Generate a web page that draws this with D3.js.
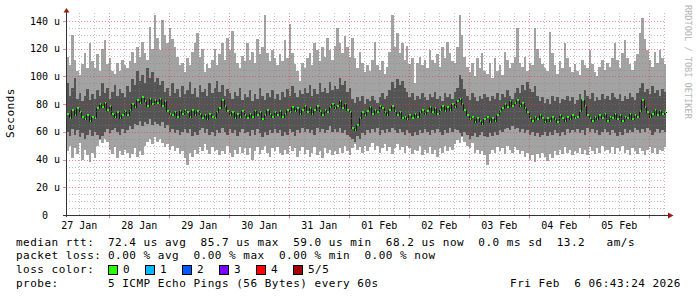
<!DOCTYPE html>
<html lang="en">
<head>
<meta charset="UTF-8">
<title>SmokePing latency, last 10 days</title>
<script src="https://d3js.org/d3.v7.min.js"></script>
<style>
  body { margin: 0; background: #fff; }
  svg { display: block; }
  text { font-family: "DejaVu Sans Mono", monospace; white-space: pre; fill: #000; }
  .tick-label { font-size: 10px; }
  .legend { font-size: 11px; letter-spacing: 0.5px; }
  .watermark { font-size: 8.6px; fill: #b4b4b4; }
</style>
</head>
<body>
<svg id="chart" width="697" height="297"></svg>
<script>
// 5 pings per sample, sorted; one sample per hour (values in microseconds)
const pingMax = [
  114,108,130,112,104,101,109,117,106,124,111,106,
  116,104,120,126,109,113,104,102,110,104,112,108,
  106,111,118,110,121,114,125,117,112,136,120,144,
  128,119,141,130,124,135,127,121,114,108,110,103,
  113,108,118,124,131,114,120,103,109,106,112,120,
  108,116,124,112,128,119,133,117,110,106,115,111,
  124,112,118,110,127,116,121,144,117,111,119,113,
  108,116,111,126,113,138,117,109,104,97,110,106,
  113,117,108,124,119,111,121,114,128,119,112,122,
  135,124,117,129,121,114,128,113,106,118,110,103,
  108,104,112,125,108,105,111,102,107,118,144,121,
  131,117,124,112,122,109,113,95,110,114,108,112,
  106,119,112,110,116,107,121,113,125,117,111,110,
  121,144,130,114,107,103,110,100,113,106,117,104,
  102,110,99,113,104,108,101,118,112,106,110,114,
  135,110,107,114,104,110,108,135,120,113,109,106,
  104,132,117,108,102,111,106,124,113,107,103,109,
  104,101,112,108,106,119,109,103,100,107,112,105,
  110,107,113,124,112,106,117,126,113,109,105,111,
  116,131,142,127,119,112,107,118,110,119,113,109
];
const ping4 = [
  95,86,92,99,84,88,82,86,91,83,87,84,
  90,86,95,88,92,84,89,94,86,91,88,85,
  93,89,98,94,104,97,101,95,106,99,103,96,
  99,94,97,89,92,86,95,88,91,85,93,87,
  90,96,87,92,85,94,89,91,86,95,88,92,
  97,89,94,86,91,88,84,89,86,92,83,87,
  85,90,82,87,84,92,86,83,88,85,90,84,
  87,83,89,85,91,86,93,88,85,90,87,92,
  88,94,86,91,87,95,89,92,88,96,90,93,
  91,99,94,97,89,92,84,81,85,82,86,80,
  84,82,86,83,81,85,88,84,86,90,96,92,
  98,94,97,92,89,85,88,83,86,84,88,85,
  83,87,85,89,84,86,82,88,85,87,84,89,
  92,101,98,91,86,83,88,85,82,86,84,87,
  85,82,86,84,88,83,87,85,90,86,84,88,
  92,88,94,90,96,91,89,93,86,82,85,81,
  84,80,86,82,85,81,84,83,86,82,85,80,
  83,87,84,90,86,84,88,82,85,83,87,84,
  86,83,88,85,84,87,82,86,84,88,85,83,
  88,92,95,89,91,87,93,88,90,86,91,89
];
const median = [
  73,70,76,72,77,74,71,69,72,68,71,70,
  77,80,78,81,76,79,73,71,74,70,72,75,
  72,76,80,78,83,81,85,82,79,84,80,83,
  81,84,79,82,75,73,72,74,71,75,73,76,
  74,71,76,72,75,73,70,72,69,73,71,70,
  74,77,83,79,75,72,74,70,73,71,75,72,
  70,73,71,75,72,74,69,72,76,73,71,74,
  72,75,71,73,76,74,78,75,77,73,76,79,
  74,77,73,76,79,75,72,76,74,78,80,77,
  79,82,77,80,76,74,63,61,65,70,74,72,
  75,78,73,76,74,79,77,74,72,76,79,75,
  72,74,70,71,69,72,70,73,71,74,76,73,
  75,78,74,77,73,76,79,75,78,76,80,78,
  82,84,80,76,72,69,71,67,70,68,66,69,
  71,67,70,68,72,75,77,80,78,82,79,81,
  83,79,81,77,74,70,68,71,69,72,70,67,
  70,68,71,69,67,72,70,68,71,69,72,70,
  71,75,83,79,72,70,68,71,69,72,70,73,
  68,71,70,73,69,72,68,71,70,73,69,72,
  71,75,83,78,74,71,73,76,72,75,73,74
];
const ping2 = [
  60,57,62,58,61,56,59,55,58,61,57,60,
  58,55,57,60,62,59,61,63,60,58,62,59,
  61,64,62,66,65,68,64,67,66,69,65,67,
  66,64,67,63,65,60,62,59,61,58,60,62,
  59,62,57,60,58,61,63,59,62,58,60,57,
  61,59,63,60,58,62,59,61,57,60,62,59,
  60,57,61,58,62,59,56,60,58,61,59,62,
  59,61,57,60,58,62,60,57,61,59,63,60,
  62,59,61,58,63,60,62,59,61,64,60,62,
  60,63,59,61,58,56,55,53,57,55,59,58,
  61,59,62,60,63,58,61,59,62,60,63,61,
  59,62,60,58,61,59,57,60,58,61,59,62,
  60,58,61,59,62,60,58,61,59,63,60,62,
  61,59,57,60,58,55,57,59,56,58,60,57,
  56,59,57,60,58,61,60,62,63,61,64,62,
  63,60,62,59,61,58,60,57,59,56,58,60,
  57,60,58,61,59,57,60,58,62,59,61,60,
  62,59,61,58,63,60,62,59,61,58,60,62,
  60,58,61,59,57,60,58,62,59,61,60,63,
  61,59,62,60,63,61,58,60,62,59,61,60
];
const pingMin = [
  46,50,41,48,44,52,40,47,43,38,45,41,
  50,54,52,55,53,47,44,49,41,46,43,47,
  45,41,44,48,42,46,43,50,53,55,51,56,
  53,55,52,49,51,47,50,46,48,44,46,41,
  36,45,42,47,44,49,46,51,47,44,49,46,
  47,43,46,44,50,45,42,47,44,49,45,48,
  43,48,40,46,49,44,47,50,45,42,48,46,
  49,45,43,47,44,50,46,48,42,46,49,44,
  47,42,45,49,43,46,41,48,45,47,43,46,
  44,48,45,50,46,43,48,51,47,49,45,50,
  46,49,52,47,50,45,48,51,46,49,44,48,
  51,47,49,45,50,48,44,47,46,50,43,47,
  45,49,44,47,42,48,45,50,46,49,47,51,
  54,52,56,53,50,48,52,45,47,44,46,43,
  36,44,47,45,49,46,48,44,50,47,45,49,
  47,44,46,42,45,40,43,38,44,41,45,42,
  39,44,41,46,43,47,44,49,45,47,43,46,
  45,48,44,47,43,49,46,44,48,45,50,46,
  47,45,49,44,48,46,50,45,47,43,48,46,
  44,48,46,43,47,49,45,48,44,47,46,49
];

const medianStats = ["72.4 us avg", "85.7 us max", "59.0 us min", "68.2 us now", "0.0 ms sd", "13.2   am/s"];
const lossStats = ["0.00 % avg", "0.00 % max", "0.00 % min", "0.00 % now"];
const lossLabels = ["0", "1", "2", "3", "4", "5/5"];
const lossColors = ["#26ff00", "#00b8ff", "#0059ff", "#7e00ff", "#ff0000", "#a00000"];
const probeText = "5 ICMP Echo Pings (56 Bytes) every 60s";
const stampText = "Fri Feb  6 06:43:24 2026";

const plotLeft = 66, plotRight = 666, plotTop = 13.4, plotBottom = 215;
const start = new Date(Date.UTC(2026, 0, 27, 6, 43, 24));
const end = new Date(Date.UTC(2026, 1, 6, 6, 43, 24));
const stepMs = (end - start) / median.length;

const svg = d3.select("#chart");

const x = d3.scaleUtc().domain([start, end]).range([plotLeft, plotRight]);
const y = d3.scaleLinear().domain([0, 145.5]).range([plotBottom, plotTop]);

const t = i => new Date(+start + i * stepMs);
const px = i => Math.round(x(t(i)));
const py = v => Math.round(y(v));
const idx = d3.range(median.length);

// smoke: outer pair (min..max) then inner pair (2nd..4th)
const data = svg.append("g").attr("shape-rendering", "crispEdges");
data.selectAll("rect.outer")
  .data(idx)
  .enter().append("rect")
    .attr("x", i => px(i))
    .attr("width", i => px(i + 1) - px(i))
    .attr("y", i => py(pingMax[i]))
    .attr("height", i => py(pingMin[i]) - py(pingMax[i]))
    .attr("fill", "#a3a3a3");
data.selectAll("rect.inner")
  .data(idx)
  .enter().append("rect")
    .attr("x", i => px(i))
    .attr("width", i => px(i + 1) - px(i))
    .attr("y", i => py(ping4[i]))
    .attr("height", i => py(ping2[i]) - py(ping4[i]))
    .attr("fill", "#545454");

// median: dark connectors plus green bars (loss 0)
const medLine = d3.line()
  .x(i => px(i) + 0.5)
  .y(i => py(median[Math.min(i, median.length - 1)]))
  .curve(d3.curveStepAfter);
data.append("path")
  .attr("d", medLine(d3.range(median.length + 1)))
  .attr("fill", "none")
  .attr("stroke", "#1a1a1a")
  .attr("stroke-width", 1);
data.selectAll("rect.med")
  .data(idx)
  .enter().append("rect")
    .attr("x", i => px(i) + 1)
    .attr("width", i => Math.max(1, px(i + 1) - px(i) - 1))
    .attr("y", i => py(median[i]) - 1)
    .attr("height", 2)
    .attr("fill", lossColors[0]);

// grid (drawn over the smoke, like rrdtool)
const grid = svg.append("g").attr("fill", "none").attr("shape-rendering", "crispEdges");
const minorY = d3.range(0, 145, 5).filter(v => v % 20 !== 0);
const majorY = d3.range(0, 145, 20);
const minorX = d3.utcHour.every(6).range(start, end).filter(d => d.getUTCHours() !== 0);
const majorX = d3.utcDay.range(start, end);

const minorColor = "rgba(130,130,130,0.5)";
const majorColor = "rgba(225,60,60,0.6)";

grid.selectAll("line.my").data(minorY).enter().append("line")
  .attr("x1", plotLeft).attr("x2", plotRight)
  .attr("y1", d => py(d) + 0.5).attr("y2", d => py(d) + 0.5)
  .attr("stroke", minorColor).attr("stroke-dasharray", "1,2");
grid.selectAll("line.mx").data(minorX).enter().append("line")
  .attr("x1", d => Math.round(x(d)) + 0.5).attr("x2", d => Math.round(x(d)) + 0.5)
  .attr("y1", plotBottom).attr("y2", plotTop)
  .attr("stroke", minorColor).attr("stroke-dasharray", "1,2");
grid.selectAll("line.My").data(majorY.filter(v => v > 0)).enter().append("line")
  .attr("x1", plotLeft).attr("x2", plotRight)
  .attr("y1", d => py(d) + 0.5).attr("y2", d => py(d) + 0.5)
  .attr("stroke", majorColor).attr("stroke-dasharray", "1,2");
grid.selectAll("line.Mx").data(majorX).enter().append("line")
  .attr("x1", d => Math.round(x(d)) + 0.5).attr("x2", d => Math.round(x(d)) + 0.5)
  .attr("y1", plotBottom + 3).attr("y2", plotTop)
  .attr("stroke", majorColor).attr("stroke-dasharray", "1,2");

// small ticks on the axes
grid.selectAll("line.ty").data(majorY).enter().append("line")
  .attr("x1", plotLeft - 3).attr("x2", plotLeft)
  .attr("y1", d => py(d) + 0.5).attr("y2", d => py(d) + 0.5)
  .attr("stroke", majorColor);
grid.selectAll("line.tx").data(majorX).enter().append("line")
  .attr("x1", d => Math.round(x(d)) + 0.5).attr("x2", d => Math.round(x(d)) + 0.5)
  .attr("y1", plotBottom).attr("y2", plotBottom + 3)
  .attr("stroke", majorColor);

// axes
const axisColor = "#333";
svg.append("line")
  .attr("x1", plotLeft + 0.5).attr("x2", plotLeft + 0.5)
  .attr("y1", plotBottom + 2).attr("y2", 10)
  .attr("stroke", axisColor);
svg.append("line")
  .attr("x1", plotLeft - 3).attr("x2", 670)
  .attr("y1", plotBottom + 0.5).attr("y2", plotBottom + 0.5)
  .attr("stroke", axisColor);
svg.append("path")
  .attr("d", `M${plotLeft - 2.5},12.5 L${plotLeft + 3.5},12.5 L${plotLeft + 0.5},8 Z`)
  .attr("fill", "#9a1a1a");
svg.append("path")
  .attr("d", `M668,212.5 L668,218.5 L673.5,215.5 Z`)
  .attr("fill", "#9a1a1a");

// y tick labels
svg.selectAll("text.yl").data(majorY).enter().append("text")
  .attr("class", "tick-label")
  .attr("x", d => d === 0 ? 48 : 60)
  .attr("y", d => y(d) + 3.5)
  .attr("text-anchor", "end")
  .text(d => d === 0 ? "0" : `${d} u`);

// x labels centred at noon of each day
const fmt = d3.utcFormat("%d %b");
const noons = majorX.map(d => d3.utcHour.offset(d, -12))
  .concat([d3.utcHour.offset(majorX[majorX.length - 1], 12)])
  .filter(d => d >= start && d <= end);
svg.selectAll("text.xl").data(noons).enter().append("text")
  .attr("class", "tick-label")
  .attr("x", d => x(d))
  .attr("y", 229)
  .attr("text-anchor", "middle")
  .text(d => fmt(d));

// axis title and watermark
svg.append("text")
  .attr("class", "legend")
  .attr("transform", "translate(14,113) rotate(-90)")
  .attr("text-anchor", "middle")
  .text("Seconds");
svg.append("text")
  .attr("class", "watermark")
  .attr("transform", "translate(685,5) rotate(90)")
  .text("RRDTOOL / TOBI OETIKER");

// legend
const lx = 16, col = 108;
const rows = [245.5, 259, 273, 287];
svg.append("text").attr("class", "legend").attr("x", lx).attr("y", rows[0]).text("median rtt:");
svg.append("text").attr("class", "legend").attr("x", col).attr("y", rows[0]).text(medianStats.join("  "));
svg.append("text").attr("class", "legend").attr("x", lx).attr("y", rows[1]).text("packet loss:");
svg.append("text").attr("class", "legend").attr("x", col).attr("y", rows[1]).text(lossStats.join("  "));
svg.append("text").attr("class", "legend").attr("x", lx).attr("y", rows[2]).text("loss color:");

const swatch = svg.selectAll("g.loss").data(lossLabels).enter().append("g")
  .attr("transform", (d, i) => `translate(${col + i * 37},0)`);
swatch.append("rect")
  .attr("x", 0.5).attr("y", 265.5).attr("width", 9).attr("height", 9)
  .attr("fill", (d, i) => lossColors[i]).attr("stroke", "#000");
swatch.append("text").attr("class", "legend")
  .attr("x", 15).attr("y", rows[2]).text(d => d);

svg.append("text").attr("class", "legend").attr("x", lx).attr("y", rows[3]).text("probe:");
svg.append("text").attr("class", "legend").attr("x", col).attr("y", rows[3]).text(probeText);
svg.append("text").attr("class", "legend").attr("x", 681).attr("y", rows[3])
  .attr("text-anchor", "end").text(stampText);
</script>
</body>
</html>
